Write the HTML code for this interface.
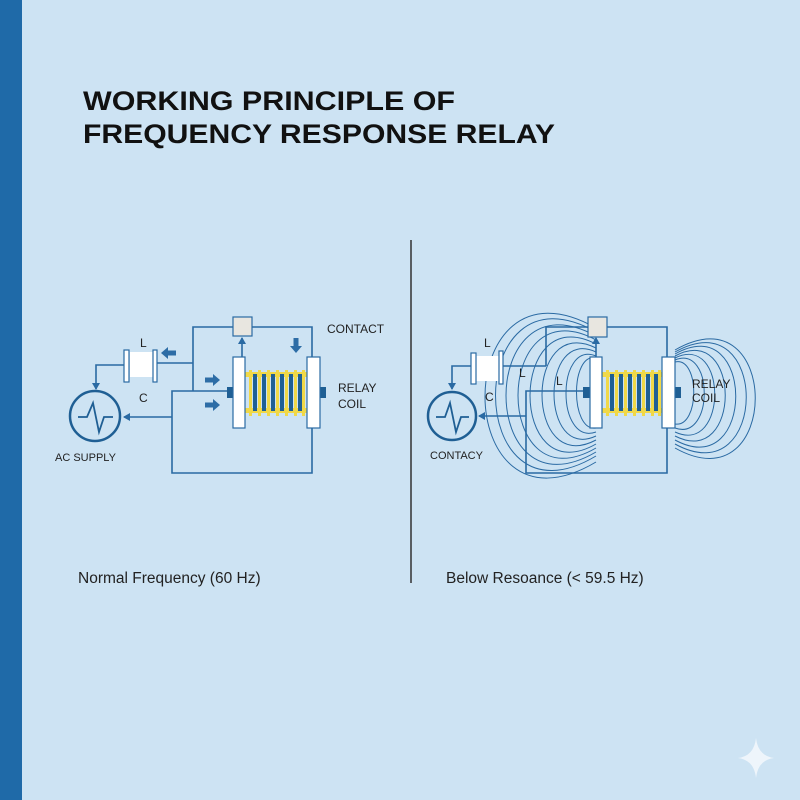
<!DOCTYPE html>
<html><head><style>html,body{margin:0;padding:0;background:#cde3f3}svg{display:block}</style></head><body>
<svg width="800" height="800" viewBox="0 0 800 800" xmlns="http://www.w3.org/2000/svg" font-family="Liberation Sans, Arial, sans-serif">
<defs>
<marker id="ah" markerWidth="8" markerHeight="8" refX="6" refY="4" orient="auto" markerUnits="userSpaceOnUse"><path d="M0,0 L7,4 L0,8 z" fill="#2a6aa3"/></marker>
<g id="bigarrow"><rect x="0" y="-2.5" width="9" height="5" fill="#2d6da6"/><path d="M8,-6 L15,0 L8,6 z" fill="#2d6da6"/></g>
</defs>
<rect width="800" height="800" fill="#cde3f3"/>
<rect x="0" y="0" width="22" height="800" fill="#1f6aa8"/>
<text x="83" y="110" font-size="27" font-weight="bold" fill="#111" textLength="372" lengthAdjust="spacingAndGlyphs">WORKING PRINCIPLE OF</text>
<text x="83" y="143" font-size="27" font-weight="bold" fill="#111" textLength="472" lengthAdjust="spacingAndGlyphs">FREQUENCY RESPONSE RELAY</text>
<line x1="411" y1="240" x2="411" y2="583" stroke="#333" stroke-width="1.5"/>

<!-- LEFT -->
<g stroke="#2a6aa3" stroke-width="1.6" fill="none">
<polyline points="193,391 193,327 233,327"/>
<polyline points="252,327 312,327 312,357"/>
<line x1="156" y1="363" x2="193" y2="363"/>
<polyline points="227,391 172,391 172,473 312,473 312,428"/>
<line x1="172" y1="417" x2="124" y2="417" marker-end="url(#ah)"/>
<polyline points="126,365 96,365 96,389" marker-end="url(#ah)"/>
<line x1="242" y1="357" x2="242" y2="338" marker-end="url(#ah)"/>
<circle cx="95" cy="416" r="25" stroke-width="2.5" stroke="#1f5f94"/>
<path d="M78,417 L87,417 L93,403 L99,432 L104,417 L113,417" stroke="#1f5f94" stroke-width="1.8"/>
</g>
<rect x="233" y="317" width="19" height="19" fill="#e8e6e0" stroke="#2a6aa3" stroke-width="1.2"/>
<rect x="130" y="352" width="23" height="25" fill="#fff"/>
<rect x="124" y="350" width="5" height="32" fill="#fff" stroke="#2a6aa3" stroke-width="1.2"/>
<rect x="153" y="350" width="4" height="32" fill="#fff" stroke="#2a6aa3" stroke-width="1.2"/>
<g fill="#f0d848"><rect x="245" y="372" width="62" height="5"/><rect x="245" y="408" width="62" height="5"/>
<rect x="249" y="370" width="3" height="46"/><rect x="258" y="370" width="3" height="46"/><rect x="267" y="370" width="3" height="46"/><rect x="276" y="370" width="3" height="46"/><rect x="285" y="370" width="3" height="46"/><rect x="294" y="370" width="3" height="46"/><rect x="302" y="370" width="3" height="46"/></g>
<g fill="#1f5f94"><rect x="253" y="374" width="4" height="37"/><rect x="262" y="374" width="4" height="37"/><rect x="271" y="374" width="4" height="37"/><rect x="280" y="374" width="4" height="37"/><rect x="289" y="374" width="4" height="37"/><rect x="298" y="374" width="4" height="37"/>
<rect x="227" y="387" width="7" height="11"/><rect x="320" y="387" width="6" height="11"/></g>
<rect x="233" y="357" width="12" height="71" fill="#fff" stroke="#2a6aa3" stroke-width="1.2"/>
<rect x="307" y="357" width="13" height="71" fill="#fff" stroke="#2a6aa3" stroke-width="1.2"/>
<use href="#bigarrow" transform="translate(176,353) rotate(180)"/>
<use href="#bigarrow" transform="translate(205,380)"/>
<use href="#bigarrow" transform="translate(205,405)"/>
<use href="#bigarrow" transform="translate(296,338) rotate(90)"/>
<g font-size="12" fill="#222">
<text x="327" y="333">CONTACT</text><text x="338" y="392">RELAY</text><text x="338" y="408">COIL</text>
<text x="140" y="347">L</text><text x="139" y="402">C</text><text x="55" y="461" font-size="11">AC SUPPLY</text>
</g>
<text x="78" y="583" font-size="15.5" fill="#222">Normal Frequency (60 Hz)</text>

<!-- RIGHT field lines -->
<g stroke="#2a6aa3" stroke-width="1" fill="none">
<path d="M596,358 C570,352 570,432 596,428"/>
<path d="M596,356 C556,340 556,446 596,432"/>
<path d="M596,352 C540,326 540,462 596,436"/>
<path d="M596,348 C524,312 524,478 596,440"/>
<path d="M596,344 C508,298 508,494 596,444"/>
<path d="M596,340 C492,284 492,508 596,448"/>
<path d="M596,336 C476,270 476,522 596,452"/>
<path d="M596,332 C462,256 462,536 596,456"/>
<path d="M596,328 C448,244 448,550 596,462"/>
<path d="M675,362 C700,356 700,428 675,424"/>
<path d="M675,360 C714,344 714,442 675,428"/>
<path d="M675,358 C728,332 728,456 675,432"/>
<path d="M675,356 C742,320 742,470 675,436"/>
<path d="M675,354 C756,308 756,484 675,440"/>
<path d="M675,352 C770,298 770,496 675,444"/>
<path d="M675,350 C782,288 782,508 675,448"/>
</g>
<g stroke="#2a6aa3" stroke-width="1.6" fill="none">
<polyline points="546,366 546,327 588,327"/>
<polyline points="607,327 667,327 667,357"/>
<line x1="502" y1="366" x2="546" y2="366"/>
<polyline points="583,391 526,391 526,473 667,473 667,428"/>
<line x1="526" y1="416" x2="479" y2="416" marker-end="url(#ah)"/>
<polyline points="471,366 452,366 452,389" marker-end="url(#ah)"/>
<line x1="596" y1="357" x2="596" y2="338" marker-end="url(#ah)"/>
<circle cx="452" cy="416" r="24" stroke-width="2.5" stroke="#1f5f94"/>
<path d="M436,417 L445,417 L450,403 L456,432 L461,417 L469,417" stroke="#1f5f94" stroke-width="1.8"/>
</g>
<rect x="588" y="317" width="19" height="20" fill="#e8e6e0" stroke="#2a6aa3" stroke-width="1.2"/>
<rect x="476" y="356" width="24" height="25" fill="#fff"/>
<rect x="471" y="353" width="5" height="31" fill="#fff" stroke="#2a6aa3" stroke-width="1.2"/>
<rect x="499" y="351" width="4" height="33" fill="#fff" stroke="#2a6aa3" stroke-width="1.2"/>
<g fill="#f0d848"><rect x="602" y="372" width="60" height="5"/><rect x="602" y="408" width="60" height="5"/>
<rect x="606" y="370" width="3" height="46"/><rect x="615" y="370" width="3" height="46"/><rect x="624" y="370" width="3" height="46"/><rect x="633" y="370" width="3" height="46"/><rect x="642" y="370" width="3" height="46"/><rect x="651" y="370" width="3" height="46"/><rect x="658" y="370" width="3" height="46"/></g>
<g fill="#1f5f94"><rect x="610" y="374" width="4" height="37"/><rect x="619" y="374" width="4" height="37"/><rect x="628" y="374" width="4" height="37"/><rect x="637" y="374" width="4" height="37"/><rect x="646" y="374" width="4" height="37"/><rect x="654" y="374" width="4" height="37"/>
<rect x="583" y="387" width="7" height="11"/><rect x="675" y="387" width="6" height="11"/></g>
<rect x="590" y="357" width="12" height="71" fill="#fff" stroke="#2a6aa3" stroke-width="1.2"/>
<rect x="662" y="357" width="13" height="71" fill="#fff" stroke="#2a6aa3" stroke-width="1.2"/>
<g font-size="12" fill="#222">
<text x="692" y="388">RELAY</text><text x="692" y="402">COIL</text>
<text x="484" y="347">L</text><text x="519" y="377">L</text><text x="556" y="385">L</text><text x="485" y="401">C</text>
<text x="430" y="459" font-size="11">CONTACY</text>
</g>
<text x="446" y="583" font-size="15.5" fill="#222">Below Resoance (&lt; 59.5 Hz)</text>
<path d="M756,738 Q758,756 774,758 Q758,760 756,778 Q754,760 738,758 Q754,756 756,738 z" fill="#eef5fb"/>
</svg>
</body></html>
